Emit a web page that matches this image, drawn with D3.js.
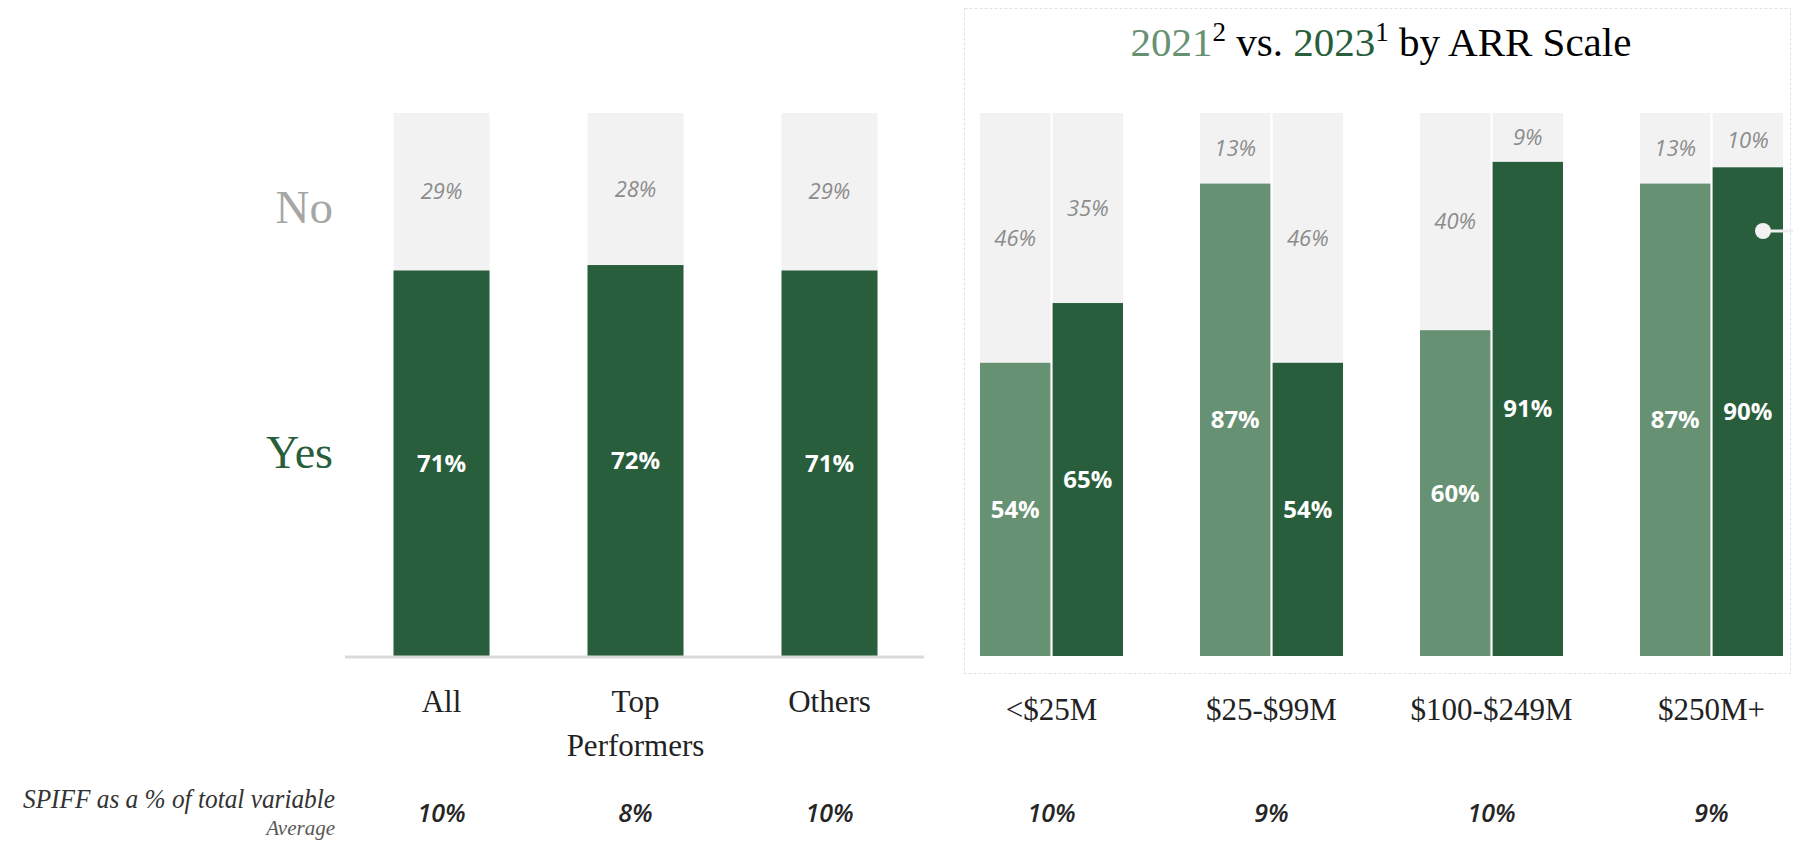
<!DOCTYPE html>
<html>
<head>
<meta charset="utf-8">
<title>SPIFF usage</title>
<script src="https://cdn.jsdelivr.net/npm/d3@7"></script>
<style>
  body { margin: 0; background: #fff; }
  svg { display: block; }
  .serif { font-family: "Liberation Serif", "DejaVu Serif", serif; }
  .sans { font-family: "Open Sans", "Noto Sans", sans-serif; }
</style>
</head>
<body>
<div id="chart"></div>
<script>
// left panel: all vs top performers vs others
var groups = ["All", "Top Performers", "Others"];
var groupYes = [71, 72, 71];
var groupNo = [29, 28, 29];
var spiffGroups = [10, 8, 10];

// right panel: 2021 vs 2023 by ARR scale
var scales = ["<$25M", "$25-$99M", "$100-$249M", "$250M+"];
var years = ["2021", "2023"];
var yes2021 = [54, 87, 60, 87];
var no2021 = [46, 13, 40, 13];
var yes2023 = [65, 54, 91, 90];
var no2023 = [35, 46, 9, 10];
var spiffScales = [10, 9, 10, 9];

var W = 1793, H = 843;
var dark = "#285e3b", light = "#669172", grey = "#f2f2f2";

var svg = d3.select("#chart").append("svg")
  .attr("width", W).attr("height", H);

var y = d3.scaleLinear().domain([0, 100]).range([656, 113]);

// ---------- left panel ----------
var x = d3.scaleBand().domain(groups).range([345, 926])
  .paddingInner(0.505).paddingOuter(0.25);

var left = groups.map(function(g, i) {
  return {name: g, yes: groupYes[i], no: groupNo[i], spiff: spiffGroups[i]};
});

var lg = svg.append("g").selectAll("g").data(left).enter().append("g");

lg.append("rect")
  .attr("x", function(d) { return x(d.name); })
  .attr("width", x.bandwidth())
  .attr("y", function(d) { return y(d.yes + d.no); })
  .attr("height", function(d) { return y(d.yes) - y(d.yes + d.no); })
  .attr("fill", grey);
lg.append("rect")
  .attr("x", function(d) { return x(d.name); })
  .attr("width", x.bandwidth())
  .attr("y", function(d) { return y(d.yes); })
  .attr("height", function(d) { return y(0) - y(d.yes); })
  .attr("fill", dark);

lg.append("text").attr("class", "sans")
  .attr("x", function(d) { return x(d.name) + x.bandwidth() / 2; })
  .attr("y", function(d) { return (y(d.yes) + y(0)) / 2; })
  .attr("dy", "0.35em").attr("text-anchor", "middle")
  .attr("font-size", 24).attr("font-weight", 700).attr("fill", "#fff")
  .text(function(d) { return d.yes + "%"; });
lg.append("text").attr("class", "sans")
  .attr("x", function(d) { return x(d.name) + x.bandwidth() / 2; })
  .attr("y", function(d) { return (y(d.yes) + y(d.yes + d.no)) / 2; })
  .attr("dy", "0.35em").attr("text-anchor", "middle")
  .attr("font-size", 22).attr("font-style", "italic").attr("fill", "#8c8c8c")
  .text(function(d) { return d.no + "%"; });

// category labels (wrap on space for the two-word one)
lg.append("text").attr("class", "serif")
  .attr("text-anchor", "middle").attr("font-size", 31).attr("fill", "#222")
  .each(function(d) {
    var words = d.name.split(" ");
    var t = d3.select(this);
    words.forEach(function(w, k) {
      t.append("tspan")
        .attr("x", x(d.name) + x.bandwidth() / 2)
        .attr("y", 712 + k * 44)
        .text(w);
    });
  });

lg.append("text").attr("class", "sans")
  .attr("x", function(d) { return x(d.name) + x.bandwidth() / 2; })
  .attr("y", 822).attr("text-anchor", "middle")
  .attr("font-size", 25).attr("font-style", "italic").attr("font-weight", 600)
  .attr("fill", "#262626")
  .text(function(d) { return d.spiff + "%"; });

// baseline
svg.append("line")
  .attr("x1", x.range()[0]).attr("x2", x.range()[1] - 2)
  .attr("y1", y(0) + 1).attr("y2", y(0) + 1)
  .attr("stroke", "#d9d9d9").attr("stroke-width", 3);

// No / Yes legend labels
svg.append("text").attr("class", "serif")
  .attr("x", 333).attr("y", 223).attr("text-anchor", "end")
  .attr("font-size", 47).attr("fill", "#a6a6a6").text("No");
svg.append("text").attr("class", "serif")
  .attr("x", 333).attr("y", 468).attr("text-anchor", "end")
  .attr("font-size", 46).attr("fill", dark).text("Yes");

// SPIFF row label
svg.append("text").attr("class", "serif")
  .attr("x", 335).attr("y", 808).attr("text-anchor", "end")
  .attr("font-size", 27).attr("font-style", "italic").attr("fill", "#333")
  .attr("textLength", 312).attr("lengthAdjust", "spacingAndGlyphs")
  .text("SPIFF as a % of total variable");
svg.append("text").attr("class", "serif")
  .attr("x", 335).attr("y", 835).attr("text-anchor", "end")
  .attr("font-size", 21).attr("font-style", "italic").attr("fill", "#595959")
  .text("Average");

// ---------- right panel ----------
svg.append("rect")
  .attr("x", 964.5).attr("y", 8.5).attr("width", 826).attr("height", 665)
  .attr("fill", "none").attr("stroke", "#dde3ea")
  .attr("stroke-dasharray", "3,2");

var title = svg.append("text").attr("class", "serif")
  .attr("x", 1381).attr("y", 56).attr("text-anchor", "middle")
  .attr("font-size", 41).attr("fill", "#000");
title.append("tspan").attr("fill", light).text(years[0]);
title.append("tspan").attr("font-size", 27).attr("dy", -15).text("2");
title.append("tspan").attr("dy", 15).text(" vs. ");
title.append("tspan").attr("fill", dark).text(years[1]);
title.append("tspan").attr("font-size", 27).attr("dy", -15).text("1");
title.append("tspan").attr("dy", 15).text(" by ARR Scale");

var x0 = d3.scaleBand().domain(scales).range([936, 1827])
  .paddingInner(0.35).paddingOuter(0.2);
var x1 = d3.scaleBand().domain(years).range([0, x0.bandwidth()])
  .paddingInner(0.03);
var yearColor = d3.scaleOrdinal().domain(years).range([light, dark]);

var right = scales.map(function(s, i) {
  return {
    name: s, spiff: spiffScales[i],
    bars: [
      {year: years[0], yes: yes2021[i], no: no2021[i]},
      {year: years[1], yes: yes2023[i], no: no2023[i]}
    ]
  };
});

var rg = svg.append("g").selectAll("g").data(right).enter().append("g")
  .attr("transform", function(d) { return "translate(" + x0(d.name) + ",0)"; });

var bar = rg.selectAll("g.bar").data(function(d) { return d.bars; })
  .enter().append("g").attr("class", "bar");

bar.append("rect")
  .attr("x", function(d) { return x1(d.year); })
  .attr("width", x1.bandwidth())
  .attr("y", function(d) { return y(d.yes + d.no); })
  .attr("height", function(d) { return y(d.yes) - y(d.yes + d.no); })
  .attr("fill", grey);
bar.append("rect")
  .attr("x", function(d) { return x1(d.year); })
  .attr("width", x1.bandwidth())
  .attr("y", function(d) { return y(d.yes); })
  .attr("height", function(d) { return y(0) - y(d.yes); })
  .attr("fill", function(d) { return yearColor(d.year); });

bar.append("text").attr("class", "sans")
  .attr("x", function(d) { return x1(d.year) + x1.bandwidth() / 2; })
  .attr("y", function(d) { return (y(d.yes) + y(0)) / 2; })
  .attr("dy", "0.35em").attr("text-anchor", "middle")
  .attr("font-size", 24).attr("font-weight", 700).attr("fill", "#fff")
  .text(function(d) { return d.yes + "%"; });
bar.append("text").attr("class", "sans")
  .attr("x", function(d) { return x1(d.year) + x1.bandwidth() / 2; })
  .attr("y", function(d) { return (y(d.yes) + y(d.yes + d.no)) / 2; })
  .attr("dy", "0.35em").attr("text-anchor", "middle")
  .attr("font-size", 22).attr("font-style", "italic").attr("fill", "#8c8c8c")
  .text(function(d) { return d.no + "%"; });

rg.append("text").attr("class", "serif")
  .attr("x", x0.bandwidth() / 2).attr("y", 720)
  .attr("text-anchor", "middle").attr("font-size", 31).attr("fill", "#222")
  .text(function(d) { return d.name; });
rg.append("text").attr("class", "sans")
  .attr("x", x0.bandwidth() / 2).attr("y", 822)
  .attr("text-anchor", "middle").attr("font-size", 25)
  .attr("font-style", "italic").attr("font-weight", 600).attr("fill", "#262626")
  .text(function(d) { return d.spiff + "%"; });

// small callout marker on the last bar
svg.append("line")
  .attr("x1", 1763).attr("x2", W).attr("y1", 231).attr("y2", 231)
  .attr("stroke", "#eeeeee").attr("stroke-width", 3);
svg.append("circle")
  .attr("cx", 1763).attr("cy", 231).attr("r", 8).attr("fill", "#f2f2f2");
</script>
</body>
</html>
